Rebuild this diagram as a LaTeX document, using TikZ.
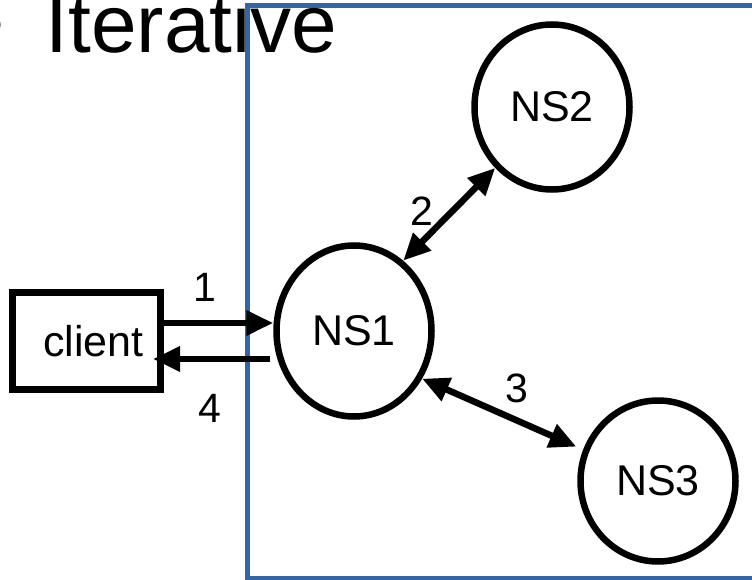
\documentclass[tikz,border=0pt]{standalone}
\usepackage{fontspec}
\setmainfont{Liberation Sans}
\usetikzlibrary{arrows.meta,shapes.geometric}
\definecolor{frameblue}{RGB}{52,101,164}
\begin{document}
\begin{tikzpicture}[x=1pt,y=-1pt,
  nsnode/.style={draw, ellipse, line width=6.5pt, minimum width=155pt, minimum height=165pt, inner sep=0pt, font=\fontsize{43}{50}\selectfont},
  boxnode/.style={draw, rectangle, line width=7pt, minimum width=148pt, minimum height=97pt, inner sep=0pt, font=\fontsize{43}{50}\selectfont},
  tip/.tip={Triangle[length=27pt,width=24pt]},
  arr/.style={line width=6.5pt, -tip},
  biarr/.style={line width=6.5pt, tip-tip},
  numlabel/.style={font=\fontsize{41}{48}\selectfont, inner sep=0pt},
  titletext/.style={font=\fontsize{82}{92}\selectfont, inner sep=0pt, anchor=base west},
]
\useasboundingbox (0,0) rectangle (752,580);
\clip (0,0) rectangle (752,580);
% frame
\draw[frameblue, line width=5pt] (247,5.5) rectangle (780,578);
% title
\node[titletext] (bullet) at (-25,53) {•};
\node[titletext] (title) at (45.5,53) {Iterative};
% nodes
\node[boxnode] (client) at (86.5,341) {\hspace*{14pt}client};
\node[nsnode, minimum height=171pt] (NS1) at (354,331) {NS1};
\node[nsnode] (NS2) at (552,107) {NS2};
\node[nsnode, minimum height=161pt] (NS3) at (658,481) {NS3};
% connectors
\draw[arr] ([yshift=18pt]client.east) -- ([yshift=18pt]client.east -| NS1.west);
\draw[arr] ([yshift=-18pt]client.east -| NS1.west) ++(-3pt,0) -- ([xshift=-11pt,yshift=-18pt]client.east);
\draw[biarr] (NS1.55) -- (NS2.227);
\draw[biarr] (NS1.325) -- ([xshift=-8pt]NS3.155);
% labels
\node[numlabel] (l1) at (205,287) {1};
\node[numlabel] (l4) at (210,408) {4};
\node[numlabel] (l2) at (422,211) {2};
\node[numlabel] (l3) at (517,388) {3};
\end{tikzpicture}
\end{document}
